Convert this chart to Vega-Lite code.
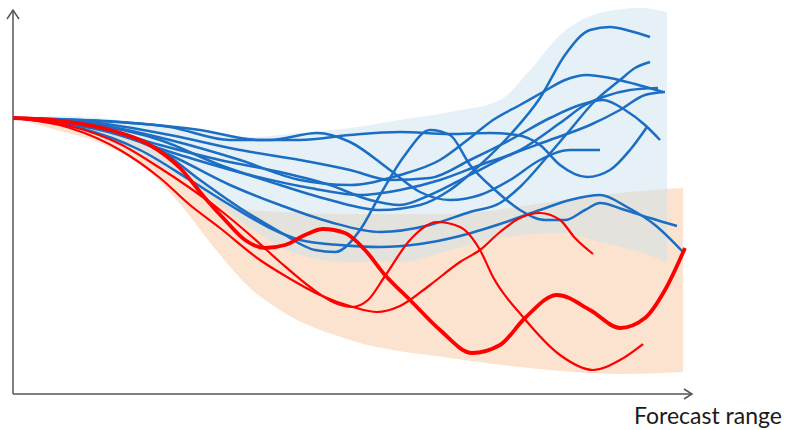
{
  "$schema": "https://vega.github.io/schema/vega-lite/v6.json",
  "width": 785,
  "height": 430,
  "autosize": {"type": "fit", "contains": "padding"},
  "padding": 0,
  "background": "white",
  "config": {"view": {"stroke": null}},
  "datasets": {
    "orangeBand": [
      {"x": 0, "lo": 276, "hi": 276},
      {"x": 47, "lo": 263, "hi": 272},
      {"x": 87, "lo": 251, "hi": 266},
      {"x": 137, "lo": 222, "hi": 249},
      {"x": 167, "lo": 190, "hi": 229},
      {"x": 204, "lo": 143, "hi": 199},
      {"x": 237, "lo": 106, "hi": 184},
      {"x": 270, "lo": 82, "hi": 182},
      {"x": 337, "lo": 54, "hi": 180},
      {"x": 437, "lo": 36, "hi": 180},
      {"x": 537, "lo": 24, "hi": 192},
      {"x": 607, "lo": 20, "hi": 201},
      {"x": 670, "lo": 22, "hi": 206}
    ],
    "blueBand": [
      {"x": 0, "lo": 276, "hi": 276},
      {"x": 47, "lo": 269, "hi": 278},
      {"x": 87, "lo": 259, "hi": 276},
      {"x": 137, "lo": 234, "hi": 270},
      {"x": 187, "lo": 204, "hi": 262},
      {"x": 237, "lo": 166, "hi": 257},
      {"x": 287, "lo": 139, "hi": 261},
      {"x": 337, "lo": 132, "hi": 266},
      {"x": 387, "lo": 132, "hi": 274},
      {"x": 437, "lo": 144, "hi": 282},
      {"x": 487, "lo": 156, "hi": 294},
      {"x": 517, "lo": 160, "hi": 324},
      {"x": 547, "lo": 161, "hi": 359},
      {"x": 587, "lo": 152, "hi": 381},
      {"x": 627, "lo": 142, "hi": 386},
      {"x": 654, "lo": 132, "hi": 382}
    ],
    "blueLines": [
      {"s": "A", "x": 0, "y": 276}, {"s": "A", "x": 77, "y": 270}, {"s": "A", "x": 147, "y": 254}, {"s": "A", "x": 207, "y": 229}, {"s": "A", "x": 267, "y": 209}, {"s": "A", "x": 317, "y": 194}, {"s": "A", "x": 367, "y": 184}, {"s": "A", "x": 407, "y": 189}, {"s": "A", "x": 437, "y": 204}, {"s": "A", "x": 467, "y": 229}, {"s": "A", "x": 497, "y": 259}, {"s": "A", "x": 527, "y": 296}, {"s": "A", "x": 552, "y": 339}, {"s": "A", "x": 577, "y": 364}, {"s": "A", "x": 597, "y": 367}, {"s": "A", "x": 617, "y": 363}, {"s": "A", "x": 637, "y": 357},
      {"s": "B", "x": 0, "y": 276}, {"s": "B", "x": 87, "y": 266}, {"s": "B", "x": 157, "y": 239}, {"s": "B", "x": 217, "y": 209}, {"s": "B", "x": 267, "y": 189}, {"s": "B", "x": 317, "y": 172}, {"s": "B", "x": 367, "y": 162}, {"s": "B", "x": 417, "y": 169}, {"s": "B", "x": 457, "y": 182}, {"s": "B", "x": 487, "y": 191}, {"s": "B", "x": 507, "y": 207}, {"s": "B", "x": 534, "y": 237}, {"s": "B", "x": 557, "y": 264}, {"s": "B", "x": 580, "y": 291}, {"s": "B", "x": 607, "y": 314}, {"s": "B", "x": 622, "y": 326}, {"s": "B", "x": 637, "y": 332},
      {"s": "C", "x": 0, "y": 276}, {"s": "C", "x": 87, "y": 269}, {"s": "C", "x": 157, "y": 254}, {"s": "C", "x": 227, "y": 234}, {"s": "C", "x": 287, "y": 214}, {"s": "C", "x": 337, "y": 209}, {"s": "C", "x": 387, "y": 219}, {"s": "C", "x": 427, "y": 234}, {"s": "C", "x": 457, "y": 256}, {"s": "C", "x": 480, "y": 274}, {"s": "C", "x": 507, "y": 289}, {"s": "C", "x": 530, "y": 302}, {"s": "C", "x": 552, "y": 314}, {"s": "C", "x": 574, "y": 319}, {"s": "C", "x": 597, "y": 316}, {"s": "C", "x": 622, "y": 310}, {"s": "C", "x": 650, "y": 302},
      {"s": "D", "x": 0, "y": 276}, {"s": "D", "x": 87, "y": 264}, {"s": "D", "x": 167, "y": 239}, {"s": "D", "x": 237, "y": 219}, {"s": "D", "x": 297, "y": 206}, {"s": "D", "x": 347, "y": 199}, {"s": "D", "x": 387, "y": 204}, {"s": "D", "x": 427, "y": 214}, {"s": "D", "x": 467, "y": 229}, {"s": "D", "x": 507, "y": 244}, {"s": "D", "x": 547, "y": 271}, {"s": "D", "x": 572, "y": 289}, {"s": "D", "x": 590, "y": 297}, {"s": "D", "x": 617, "y": 304}, {"s": "D", "x": 645, "y": 306},
      {"s": "E", "x": 0, "y": 276}, {"s": "E", "x": 77, "y": 272}, {"s": "E", "x": 157, "y": 259}, {"s": "E", "x": 227, "y": 244}, {"s": "E", "x": 287, "y": 234}, {"s": "E", "x": 337, "y": 224}, {"s": "E", "x": 377, "y": 214}, {"s": "E", "x": 417, "y": 216}, {"s": "E", "x": 457, "y": 234}, {"s": "E", "x": 497, "y": 254}, {"s": "E", "x": 537, "y": 276}, {"s": "E", "x": 567, "y": 289}, {"s": "E", "x": 590, "y": 294}, {"s": "E", "x": 612, "y": 284}, {"s": "E", "x": 632, "y": 269}, {"s": "E", "x": 647, "y": 254},
      {"s": "F", "x": 0, "y": 276}, {"s": "F", "x": 107, "y": 272}, {"s": "F", "x": 187, "y": 264}, {"s": "F", "x": 247, "y": 254}, {"s": "F", "x": 287, "y": 254}, {"s": "F", "x": 337, "y": 259}, {"s": "F", "x": 387, "y": 262}, {"s": "F", "x": 437, "y": 260}, {"s": "F", "x": 477, "y": 261}, {"s": "F", "x": 504, "y": 259}, {"s": "F", "x": 527, "y": 249}, {"s": "F", "x": 547, "y": 229}, {"s": "F", "x": 574, "y": 217}, {"s": "F", "x": 597, "y": 224}, {"s": "F", "x": 617, "y": 244}, {"s": "F", "x": 634, "y": 267},
      {"s": "G", "x": 0, "y": 276}, {"s": "G", "x": 87, "y": 266}, {"s": "G", "x": 147, "y": 244}, {"s": "G", "x": 187, "y": 214}, {"s": "G", "x": 227, "y": 186}, {"s": "G", "x": 267, "y": 162}, {"s": "G", "x": 302, "y": 144}, {"s": "G", "x": 322, "y": 142}, {"s": "G", "x": 347, "y": 164}, {"s": "G", "x": 367, "y": 199}, {"s": "G", "x": 392, "y": 239}, {"s": "G", "x": 417, "y": 264}, {"s": "G", "x": 437, "y": 259}, {"s": "G", "x": 457, "y": 229}, {"s": "G", "x": 482, "y": 204}, {"s": "G", "x": 507, "y": 184}, {"s": "G", "x": 532, "y": 174}, {"s": "G", "x": 552, "y": 174}, {"s": "G", "x": 572, "y": 184}, {"s": "G", "x": 587, "y": 191}, {"s": "G", "x": 612, "y": 184}, {"s": "G", "x": 637, "y": 176}, {"s": "G", "x": 664, "y": 168},
      {"s": "L", "x": 0, "y": 276}, {"s": "L", "x": 67, "y": 266}, {"s": "L", "x": 127, "y": 244}, {"s": "L", "x": 177, "y": 214}, {"s": "L", "x": 217, "y": 189}, {"s": "L", "x": 257, "y": 166}, {"s": "L", "x": 287, "y": 154}, {"s": "L", "x": 327, "y": 149}, {"s": "L", "x": 367, "y": 147}, {"s": "L", "x": 407, "y": 150}, {"s": "L", "x": 447, "y": 158}, {"s": "L", "x": 487, "y": 170}, {"s": "L", "x": 527, "y": 184}, {"s": "L", "x": 557, "y": 194}, {"s": "L", "x": 587, "y": 199}, {"s": "L", "x": 614, "y": 187}, {"s": "L", "x": 642, "y": 169}, {"s": "L", "x": 670, "y": 142},
      {"s": "I", "x": 0, "y": 276}, {"s": "I", "x": 77, "y": 269}, {"s": "I", "x": 147, "y": 249}, {"s": "I", "x": 207, "y": 234}, {"s": "I", "x": 267, "y": 222}, {"s": "I", "x": 317, "y": 209}, {"s": "I", "x": 357, "y": 194}, {"s": "I", "x": 387, "y": 189}, {"s": "I", "x": 417, "y": 199}, {"s": "I", "x": 457, "y": 219}, {"s": "I", "x": 497, "y": 239}, {"s": "I", "x": 537, "y": 254}, {"s": "I", "x": 577, "y": 269}, {"s": "I", "x": 607, "y": 284}, {"s": "I", "x": 632, "y": 299}, {"s": "I", "x": 652, "y": 302},
      {"s": "J", "x": 0, "y": 276}, {"s": "J", "x": 87, "y": 273}, {"s": "J", "x": 157, "y": 267}, {"s": "J", "x": 217, "y": 254}, {"s": "J", "x": 257, "y": 254}, {"s": "J", "x": 304, "y": 261}, {"s": "J", "x": 337, "y": 252}, {"s": "J", "x": 377, "y": 224}, {"s": "J", "x": 407, "y": 202}, {"s": "J", "x": 437, "y": 194}, {"s": "J", "x": 467, "y": 199}, {"s": "J", "x": 497, "y": 214}, {"s": "J", "x": 527, "y": 234}, {"s": "J", "x": 557, "y": 244}, {"s": "J", "x": 587, "y": 244}
    ],
    "redLines": [
      {"s": "R", "w": "thick", "x": 0, "y": 276}, {"s": "R", "w": "thick", "x": 47, "y": 273}, {"s": "R", "w": "thick", "x": 97, "y": 264}, {"s": "R", "w": "thick", "x": 137, "y": 249}, {"s": "R", "w": "thick", "x": 167, "y": 226}, {"s": "R", "w": "thick", "x": 192, "y": 196}, {"s": "R", "w": "thick", "x": 212, "y": 174}, {"s": "R", "w": "thick", "x": 232, "y": 154}, {"s": "R", "w": "thick", "x": 252, "y": 146}, {"s": "R", "w": "thick", "x": 272, "y": 149}, {"s": "R", "w": "thick", "x": 292, "y": 159}, {"s": "R", "w": "thick", "x": 310, "y": 165}, {"s": "R", "w": "thick", "x": 332, "y": 161}, {"s": "R", "w": "thick", "x": 352, "y": 144}, {"s": "R", "w": "thick", "x": 372, "y": 119}, {"s": "R", "w": "thick", "x": 397, "y": 94}, {"s": "R", "w": "thick", "x": 427, "y": 64}, {"s": "R", "w": "thick", "x": 459, "y": 41}, {"s": "R", "w": "thick", "x": 487, "y": 49}, {"s": "R", "w": "thick", "x": 512, "y": 76}, {"s": "R", "w": "thick", "x": 544, "y": 99}, {"s": "R", "w": "thick", "x": 577, "y": 84}, {"s": "R", "w": "thick", "x": 607, "y": 66}, {"s": "R", "w": "thick", "x": 632, "y": 76}, {"s": "R", "w": "thick", "x": 652, "y": 104}, {"s": "R", "w": "thick", "x": 672, "y": 146},
      {"s": "T1", "w": "thin", "x": 0, "y": 276}, {"s": "T1", "w": "thin", "x": 57, "y": 268}, {"s": "T1", "w": "thin", "x": 107, "y": 250}, {"s": "T1", "w": "thin", "x": 147, "y": 226}, {"s": "T1", "w": "thin", "x": 177, "y": 206}, {"s": "T1", "w": "thin", "x": 207, "y": 184}, {"s": "T1", "w": "thin", "x": 237, "y": 159}, {"s": "T1", "w": "thin", "x": 267, "y": 132}, {"s": "T1", "w": "thin", "x": 297, "y": 107}, {"s": "T1", "w": "thin", "x": 322, "y": 91}, {"s": "T1", "w": "thin", "x": 339, "y": 87}, {"s": "T1", "w": "thin", "x": 355, "y": 94}, {"s": "T1", "w": "thin", "x": 372, "y": 118}, {"s": "T1", "w": "thin", "x": 397, "y": 154}, {"s": "T1", "w": "thin", "x": 424, "y": 172}, {"s": "T1", "w": "thin", "x": 447, "y": 167}, {"s": "T1", "w": "thin", "x": 467, "y": 144}, {"s": "T1", "w": "thin", "x": 480, "y": 117}, {"s": "T1", "w": "thin", "x": 510, "y": 77}, {"s": "T1", "w": "thin", "x": 547, "y": 39}, {"s": "T1", "w": "thin", "x": 580, "y": 24}, {"s": "T1", "w": "thin", "x": 607, "y": 34}, {"s": "T1", "w": "thin", "x": 630, "y": 50},
      {"s": "T2", "w": "thin", "x": 0, "y": 276}, {"s": "T2", "w": "thin", "x": 57, "y": 266}, {"s": "T2", "w": "thin", "x": 107, "y": 244}, {"s": "T2", "w": "thin", "x": 147, "y": 216}, {"s": "T2", "w": "thin", "x": 177, "y": 189}, {"s": "T2", "w": "thin", "x": 207, "y": 166}, {"s": "T2", "w": "thin", "x": 247, "y": 134}, {"s": "T2", "w": "thin", "x": 274, "y": 117}, {"s": "T2", "w": "thin", "x": 307, "y": 99}, {"s": "T2", "w": "thin", "x": 340, "y": 87}, {"s": "T2", "w": "thin", "x": 364, "y": 82}, {"s": "T2", "w": "thin", "x": 387, "y": 88}, {"s": "T2", "w": "thin", "x": 417, "y": 109}, {"s": "T2", "w": "thin", "x": 447, "y": 132}, {"s": "T2", "w": "thin", "x": 467, "y": 144}, {"s": "T2", "w": "thin", "x": 487, "y": 162}, {"s": "T2", "w": "thin", "x": 507, "y": 176}, {"s": "T2", "w": "thin", "x": 527, "y": 181}, {"s": "T2", "w": "thin", "x": 547, "y": 174}, {"s": "T2", "w": "thin", "x": 562, "y": 156}, {"s": "T2", "w": "thin", "x": 580, "y": 140}
    ],
    "yAxis": [{"x": 0, "y": 0, "y2": 384}],
    "xAxis": [{"x": 0, "x2": 679, "y": 0}],
    "upArrow": [{"x": 0, "y": 384}],
    "rightArrow": [{"x": 679, "y": 0}],
    "label": [{"x": 769, "y": -30, "text": "Forecast range"}]
  },
  "layer": [
    {
      "data": {"name": "orangeBand"},
      "mark": {"type": "area", "interpolate": "monotone", "color": "#f8c8a2", "opacity": 0.5},
      "encoding": {
        "x": {"field": "x", "type": "quantitative", "scale": {"domain": [-13, 772], "nice": false, "zero": false}, "axis": null},
        "y": {"field": "lo", "type": "quantitative", "scale": {"domain": [-36, 394], "nice": false, "zero": false}, "axis": null},
        "y2": {"field": "hi"}
      }
    },
    {
      "data": {"name": "blueBand"},
      "mark": {"type": "area", "interpolate": "monotone", "color": "#c6e0ec", "opacity": 0.45},
      "encoding": {
        "x": {"field": "x", "type": "quantitative", "axis": null},
        "y": {"field": "lo", "type": "quantitative", "axis": null},
        "y2": {"field": "hi"}
      }
    },
    {
      "data": {"name": "blueLines"},
      "mark": {"type": "line", "interpolate": "monotone", "color": "#1b6ec4", "strokeWidth": 2.5},
      "encoding": {
        "x": {"field": "x", "type": "quantitative", "axis": null},
        "y": {"field": "y", "type": "quantitative", "axis": null},
        "detail": {"field": "s"}
      }
    },
    {
      "data": {"name": "redLines"},
      "mark": {"type": "line", "interpolate": "monotone", "color": "#ff0000"},
      "encoding": {
        "x": {"field": "x", "type": "quantitative", "axis": null},
        "y": {"field": "y", "type": "quantitative", "axis": null},
        "detail": {"field": "s"},
        "strokeWidth": {"field": "w", "type": "nominal", "scale": {"domain": ["thin", "thick"], "range": [2.2, 3.8]}, "legend": null}
      }
    },
    {
      "data": {"name": "yAxis"},
      "mark": {"type": "rule", "color": "#555555", "strokeWidth": 1.5},
      "encoding": {
        "x": {"field": "x", "type": "quantitative", "axis": null},
        "y": {"field": "y", "type": "quantitative", "axis": null},
        "y2": {"field": "y2"}
      }
    },
    {
      "data": {"name": "xAxis"},
      "mark": {"type": "rule", "color": "#555555", "strokeWidth": 1.5},
      "encoding": {
        "x": {"field": "x", "type": "quantitative", "axis": null},
        "x2": {"field": "x2"},
        "y": {"field": "y", "type": "quantitative", "axis": null}
      }
    },
    {
      "data": {"name": "upArrow"},
      "mark": {"type": "point", "shape": "M -0.6 0.9 L 0 0 L 0.6 0.9", "filled": false, "size": 400, "stroke": "#555555", "strokeWidth": 1.5, "opacity": 1},
      "encoding": {
        "x": {"field": "x", "type": "quantitative", "axis": null},
        "y": {"field": "y", "type": "quantitative", "axis": null}
      }
    },
    {
      "data": {"name": "rightArrow"},
      "mark": {"type": "point", "shape": "M -0.8 -0.5 L 0 0 L -0.8 0.5", "filled": false, "size": 400, "stroke": "#555555", "strokeWidth": 1.5, "opacity": 1},
      "encoding": {
        "x": {"field": "x", "type": "quantitative", "axis": null},
        "y": {"field": "y", "type": "quantitative", "axis": null}
      }
    },
    {
      "data": {"name": "label"},
      "mark": {"type": "text", "align": "right", "baseline": "alphabetic", "font": "Lato", "fontSize": 23, "color": "#1a1a1a"},
      "encoding": {
        "x": {"field": "x", "type": "quantitative", "axis": null},
        "y": {"field": "y", "type": "quantitative", "axis": null},
        "text": {"field": "text"}
      }
    }
  ]
}
